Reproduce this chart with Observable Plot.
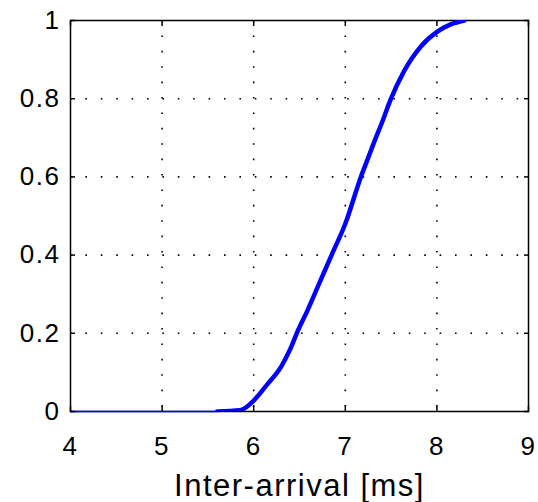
<!DOCTYPE html>
<html><head><meta charset="utf-8">
<script src="https://cdn.jsdelivr.net/npm/d3@7"></script>
<script src="https://cdn.jsdelivr.net/npm/@observablehq/plot@0.6"></script>
<style>
body{margin:0;background:#fff}
#chart svg text{letter-spacing:1.5px}
</style>
</head><body><div id="chart"></div>
<script>
// Flat (thin) segment before the first arrivals
const flatX = [4, 5.6];
const flatY = [0, 0];
// Empirical CDF of inter-arrival time (ms)
const cdfX = [5.6, 5.85, 6.0, 6.15, 6.30, 6.40, 6.47, 6.59, 6.72, 6.85, 7.0, 7.17, 7.26, 7.30, 7.41, 7.49, 7.64, 7.83, 8.01, 8.15, 8.30];
const cdfY = [0, 0.003, 0.028, 0.07, 0.115, 0.16, 0.20, 0.26, 0.33, 0.40, 0.48, 0.60, 0.655, 0.68, 0.745, 0.795, 0.87, 0.935, 0.972, 0.99, 1.0];
const xTicks = [4, 5, 6, 7, 8, 9];
const yTicks = [0, 0.2, 0.4, 0.6, 0.8, 1];
const xGrid = [5, 6, 7, 8];
const yGrid = [0.2, 0.4, 0.6, 0.8];
const xLabel = "Inter-arrival [ms]";

const flat = flatX.map((x, i) => ({x, y: flatY[i]}));
const cdf = cdfX.map((x, i) => ({x, y: cdfY[i]}));
const fmtY = d => d === 0 ? "0" : d === 1 ? "1" : String(d);

const grid = {stroke: "#000", strokeOpacity: 1, strokeWidth: 1.6, strokeDasharray: "1.6 13.8"};
const fs = 26;

const chart = Plot.plot({
  width: 538,
  height: 502,
  marginLeft: 70,
  marginRight: 10,
  marginTop: 20,
  marginBottom: 91,
  style: {fontFamily: "'Liberation Sans', Arial, sans-serif", background: "#fff", color: "#000"},
  x: {domain: [4, 9]},
  y: {domain: [0, 1]},
  marks: [
    Plot.gridX(xGrid, grid),
    Plot.gridY(yGrid, grid),
    Plot.frame({stroke: "#000", strokeWidth: 1.5}),
    Plot.line(cdf, {x: "x", y: "y", stroke: "#0000ff", strokeWidth: 4.5, clip: true, curve: "monotone-x"}),
    Plot.line(flat, {x: "x", y: "y", stroke: "#0000ff", strokeWidth: 1.5}),
    Plot.axisX(xTicks, {anchor: "bottom", tickSize: -5, tickPadding: 30, strokeWidth: 1.5, fontSize: fs,
      label: xLabel, labelAnchor: "center", labelArrow: "none", labelOffset: 84}),
    Plot.axisX(xTicks, {anchor: "top", tickSize: -5, strokeWidth: 1.5, fill: "none", label: null}),
    Plot.axisY(yTicks, {anchor: "left", tickSize: -5, tickPadding: 15, strokeWidth: 1.5, fontSize: fs,
      tickFormat: fmtY, label: null}),
    Plot.axisY(yTicks, {anchor: "right", tickSize: -5, strokeWidth: 1.5, fill: "none", label: null})
  ]
});
chart.querySelectorAll("g[aria-label='x-axis label']").forEach(e => e.setAttribute("font-size", 31));
document.getElementById("chart").appendChild(chart);
</script>
</body></html>
